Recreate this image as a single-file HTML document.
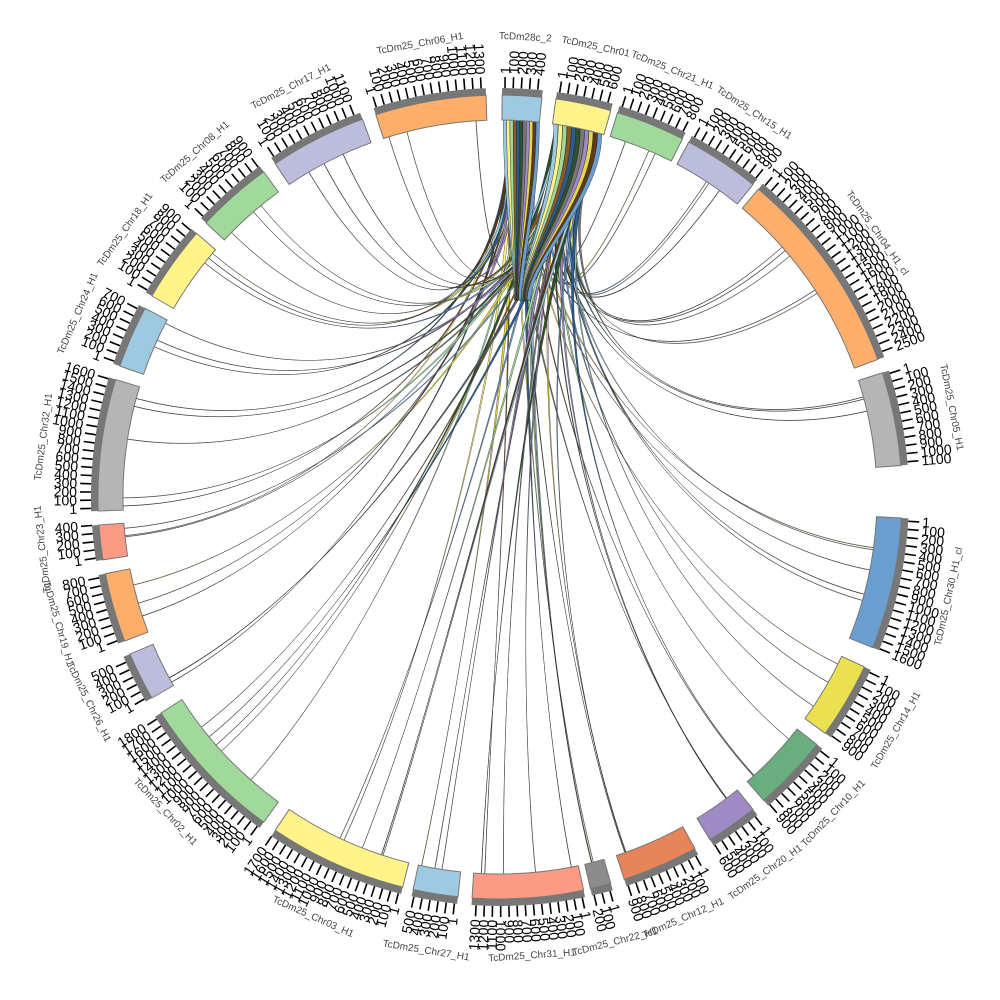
<!DOCTYPE html>
<html><head><meta charset="utf-8"><style>
html,body{margin:0;padding:0;background:#fff;}
svg{display:block;}
text{font-family:"Liberation Sans",sans-serif;}
</style></head><body>
<svg id="s" width="1000" height="1000" viewBox="0 0 1000 1000" xmlns="http://www.w3.org/2000/svg"></svg>
<script>
const cx=500,cy=497,R0=377,R1=402;
const segs=[
["TcDm28c_2",0.3,6,"#9ecae1"],["TcDm25_Chr01",8,16,"#fff38a"],["TcDm25_Chr21_H1",17,27,"#a1d99b"],
["TcDm25_Chr15_H1",28,39,"#bcbddc"],["TcDm25_Chr04_H1_cl",40,70,"#fdae6b"],["TcDm25_Chr05_H1",72,85.5,"#b5b5b5"],
["TcDm25_Chr30_H1_cl",93,112,"#6a9ecf"],["TcDm25_Chr14_H1",115,126,"#ebe050"],["TcDm25_Chr10_H1",128,139,"#6aae80"],
["TcDm25_Chr20_H1",141,148.5,"#9e8ac4"],["TcDm25_Chr12_H1",151,162,"#e6845a"],["TcDm25_Chr22_H1",164,167,"#8c8c8c"],
["TcDm25_Chr31_H1",168,184,"#fb9a85"],["TcDm25_Chr27_H1",186,192.5,"#9ecae1"],["TcDm25_Chr03_H1",194,214,"#fff38a"],
["TcDm25_Chr02_H1",216,237.5,"#a1d99b"],["TcDm25_Chr26_H1",240,247,"#bcbddc"],["TcDm25_Chr19_H1",249,259,"#fdae6b"],
["TcDm25_Chr23_H1",261,266,"#fb9a85"],["TcDm25_Chr32_H1",268,287,"#b5b5b5"],["TcDm25_Chr24_H1",289,298,"#9ecae1"],
["TcDm25_Chr18_H1",300,311,"#fff38a"],["TcDm25_Chr08_H1",313,324,"#a1d99b"],["TcDm25_Chr17_H1",326,340,"#bcbddc"],
["TcDm25_Chr06_H1",342,358,"#fdae6b"]];
function P(a,r){const t=a*Math.PI/180;return [cx+r*Math.sin(t),cy-r*Math.cos(t)];}
function f(p){return p[0].toFixed(1)+","+p[1].toFixed(1);}
let out="";
let seed=7;function rnd(){seed=(seed*16807)%2147483647;return seed/2147483647;}
const cols=["#9ecae1","#fff38a","#a1d99b","#8b5a2b","#2a5d8f","#2f4f2f","#777","#9e8ac4","#e6d84a","#5b3a1e","#6a9ecf"];
let chords="";
for(let i=2;i<segs.length;i++){
  const s=segs[i];const n=i==4||i==6||i==19||i==15||i==14||i==12?5:3;
  for(let k=0;k<n;k++){
    const src=rnd()<0.5?0.6+rnd()*5:8.3+rnd()*7.2;
    const w=0.25+rnd()*0.5;
    const t=s[1]+0.5+rnd()*(s[2]-s[1]-1);
    const a=P(src,R0),b=P(src+w,R0),c=P(t,R0),d=P(t+0.06,R0);
    const k1=[522+(src-8)*0.6,320],k2=[cx+(c[0]-cx)*0.45,cy+(c[1]-cy)*0.45];
    const k3=[cx+(d[0]-cx)*0.45,cy+(d[1]-cy)*0.45],k4=[523+(src-8)*0.6,321];
    chords+=`<path d="M${f(a)} C${f(k1)} ${f(k2)} ${f(c)} L${f(d)} C${f(k3)} ${f(k4)} ${f(b)} Z" fill="${cols[(i*3+k)%cols.length]}" stroke="#222" stroke-width="0.35"/>`;
  }
}
for(let k=0;k<22;k++){
  const src=k<11?0.5+k*0.5:8.2+(k-11)*0.68;
  const w=k<11?0.5:0.65;
  const a=P(src,R0),b=P(src+w,R0),m=[520+(src-7)*0.9,300],m2=[523+(src+w-7)*0.9,300];
  chords+=`<path d="M${f(a)} C${f([a[0],200])} ${f([m[0],260])} ${f(m)} L${f(m2)} C${f([m2[0],260])} ${f([b[0],200])} ${f(b)} Z" fill="${cols[k%cols.length]}" stroke="#222" stroke-width="0.4"/>`;
}
out+=chords;
segs.forEach(s=>{
  const [nm,a0,a1,col]=s;
  const p1=P(a0,R1),p2=P(a1,R1),p3=P(a1,R0),p4=P(a0,R0);
  out+=`<path d="M${f(p1)} A${R1},${R1} 0 0 1 ${f(p2)} L${f(p3)} A${R0},${R0} 0 0 0 ${f(p4)} Z" fill="${col}" stroke="#777" stroke-width="1"/>`;
  const g1=P(a0,R1),g2=P(a1,R1),g3=P(a1,R1+7),g4=P(a0,R1+7);
  out+=`<path d="M${f(g1)} A${R1},${R1} 0 0 1 ${f(g2)} L${f(g3)} A${R1+7},${R1+7} 0 0 0 ${f(g4)} Z" fill="#777"/>`;
  let v=0;
  for(let a=a0+0.4;a<a1;a+=1.15){
    const t1=P(a,R1+7),t2=P(a,R1+18);
    out+=`<line x1="${t1[0].toFixed(1)}" y1="${t1[1].toFixed(1)}" x2="${t2[0].toFixed(1)}" y2="${t2[1].toFixed(1)}" stroke="#000" stroke-width="1.6"/>`;
    const lab=v==0?"1":String(v*100);v++;
    const q=P(a,R1+21);const left=(a%360)>=180;
    const rot=left?a+90:a-90;
    out+=`<text x="${q[0].toFixed(1)}" y="${q[1].toFixed(1)}" font-size="14" fill="#000" text-anchor="${left?'end':'start'}" dominant-baseline="central" transform="rotate(${rot.toFixed(1)} ${q[0].toFixed(1)} ${q[1].toFixed(1)})">${lab}</text>`;
  }
  const am=(a0+a1)/2;const q=P(am,R1+58);
  const rot=(am>100&&am<260)?am-180:am;
  out+=`<text x="${q[0].toFixed(1)}" y="${q[1].toFixed(1)}" font-size="10" fill="#444" text-anchor="middle" dominant-baseline="central" transform="rotate(${rot.toFixed(1)} ${q[0].toFixed(1)} ${q[1].toFixed(1)})">${nm}</text>`;
});
document.getElementById("s").innerHTML=out;
</script>
</body></html>
